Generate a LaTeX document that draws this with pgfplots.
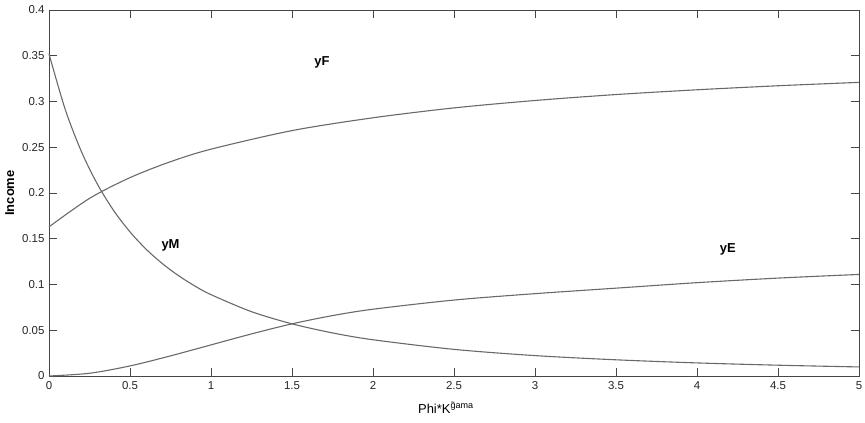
\documentclass[border=0pt]{standalone}
\usepackage{fontspec}
\setmainfont{Liberation Sans}
\usepackage{pgfplots}
\pgfplotsset{compat=1.18}
\definecolor{curve}{RGB}{105,105,105}
\definecolor{axisc}{RGB}{70,70,70}
\begin{document}
\begin{tikzpicture}
\begin{axis}[
  scale only axis,
  width=810bp, height=366bp,
  xmin=0, xmax=5, ymin=0, ymax=0.4,
  xtick={0,0.5,1,1.5,2,2.5,3,3.5,4,4.5,5},
  ytick={0,0.05,0.1,0.15,0.2,0.25,0.3,0.35,0.4},
  xticklabels={0,0.5,1,1.5,2,2.5,3,3.5,4,4.5,5},
  yticklabels={0,0.05,0.1,0.15,0.2,0.25,0.3,0.35,0.4},
  tick align=inside,
  major tick length=8bp,
  axis line style={axisc, line width=0.9pt},
  every tick/.style={axisc, line width=0.8pt},
  tick label style={font=\fontsize{11.5}{13}\selectfont, text=black!85},
  xticklabel style={yshift=-2bp},
  yticklabel style={xshift=-1bp},
  xlabel={Phi*K\textsuperscript{\~{g}ama}},
  ylabel={\textbf{Income}},
  xlabel style={font=\fontsize{13}{15}\selectfont, at={(ticklabel cs:0.49)}, yshift=-6bp},
  ylabel style={font=\fontsize{13}{15}\selectfont, yshift=1bp},
  clip=false,
]
\addplot[curve, line width=1.1pt, smooth] coordinates {
(0,0.163) (0.25,0.1941) (0.5,0.2168) (0.75,0.2342) (1,0.2479) (1.5,0.2682) (2,0.2822) (2.5,0.2930) (3,0.3011) (3.5,0.3076) (4,0.3128) (4.5,0.3172) (5,0.3209)};
\addplot[curve, line width=1.1pt, smooth] coordinates {
(0,0.352) (0.1,0.2914) (0.2,0.2453) (0.3,0.2093) (0.4,0.1806) (0.5,0.1575) (0.6,0.1385) (0.7,0.1228) (0.8,0.1096) (0.9,0.0984) (1,0.0889) (1.25,0.0703) (1.5,0.0570) (1.75,0.0471) (2,0.0396) (2.5,0.0291) (3,0.0223) (3.5,0.0177) (4,0.0143) (4.5,0.0118) (5,0.0099)};
\addplot[curve, line width=1.1pt, smooth] coordinates {
(0,0) (0.25,0.003) (0.5,0.011) (0.75,0.022) (1,0.034) (1.25,0.046) (1.5,0.057) (1.75,0.066) (2,0.073) (2.5,0.083) (3,0.090) (3.5,0.096) (4,0.102) (4.5,0.107) (5,0.111)};
\node[font=\bfseries\fontsize{13}{15}\selectfont] at (axis cs:1.685,0.343) {yF};
\node[font=\bfseries\fontsize{13}{15}\selectfont] at (axis cs:0.75,0.143) {yM};
\node[font=\bfseries\fontsize{13}{15}\selectfont] at (axis cs:4.19,0.138) {yE};
\end{axis}
\pgfresetboundingbox
\path[use as bounding box] (current axis.south west) ++(-49bp,-47bp) rectangle ([shift={(6bp,10bp)}]current axis.north east);
\end{tikzpicture}
\end{document}
